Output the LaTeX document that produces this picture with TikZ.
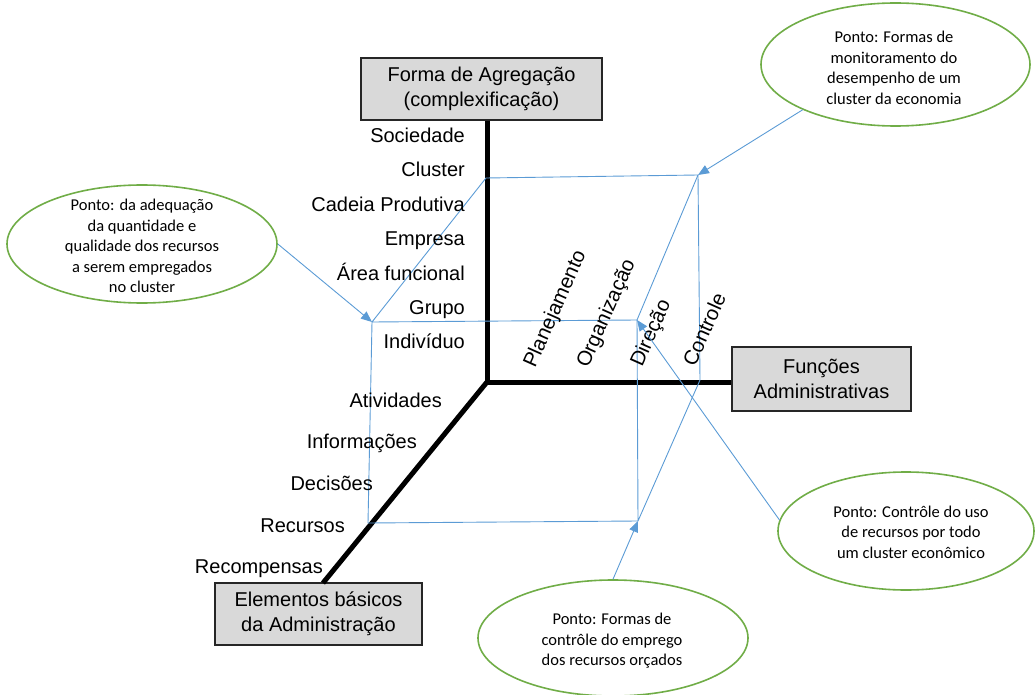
\documentclass[tikz,border=0pt]{standalone}
\usepackage{fontspec}
\setmainfont{Liberation Sans}
\newfontfamily\calibri{Carlito}
\usetikzlibrary{arrows.meta, shapes.geometric}

\definecolor{linkblue}{HTML}{5B9BD5}
\definecolor{pontogreen}{HTML}{70AD47}
\definecolor{boxgray}{HTML}{D9D9D9}

\begin{document}
\begin{tikzpicture}[
x=1pt, y=-1pt,
axis/.style={line width=5pt, black},
axisbox/.style={
rectangle,
draw=black!85,
line width=1.4pt,
fill=boxgray,
align=center,
inner sep=0 pt,
font=\fontsize{20}{25}\selectfont,
},
level/.style={anchor=base east, inner sep=0 pt, font=\fontsize{20}{24}\selectfont},
func/.style={anchor=base west, inner sep=0 pt, rotate=66, font=\fontsize{20.5}{24}\selectfont},
ponto/.style={ellipse, draw=pontogreen, line width=1.6pt, fill=white, inner sep=0 pt},
pontotext/.style={align=center, font=\calibri\fontsize{16.5}{20.5}\selectfont},
link/.style={linkblue, line width=0.9pt},
pointer/.style={link, -{Triangle[length=11pt, width=9pt]}},
]
\useasboundingbox (0,0) rectangle (1036,695);

% axis boxes
\node [axisbox, minimum width=241pt, minimum height=62pt] at (481.5,89) (agreg)
{Forma de Agregação\\(complexificação)};
\node [axisbox, minimum width=179pt, minimum height=64pt] at (821.5,379) (funcoes)
{Funções\\Administrativas};
\node [axisbox, minimum width=207pt, minimum height=62pt] at (318.5,614) (elem)
{Elementos básicos\\da Administração};

% axes
\coordinate (o) at (487,382);
\coordinate (elemtop) at (323,583);
\draw [axis] (o) -- (elemtop);
\draw [axis] (o |- agreg.south) -- (o) -- (o -| funcoes.west);

% cube
\path
(486,178) coordinate(cluster)
(698,175) coordinate(clusterctl)
(372,322) coordinate(grupo)
(637,320) coordinate(grupodir)
(368,523) coordinate(recursos)
(638,521) coordinate(recursosdir)
(700,380) coordinate(controle)
;
\draw [link] (grupo) -- (cluster) -- (clusterctl) -- (controle) -- (recursosdir)
-- (recursos) -- (grupo) -- (grupodir) -- (recursosdir);
\draw [link] (clusterctl) -- (grupodir);

% forma de agregacao
\path[every node/.style=level]
(465,143) node (socied) {Sociedade}
(465,177) node (clust) {Cluster}
(465,211.5) node (cadeia) {Cadeia Produtiva}
(465,245.5) node (empresa) {Empresa}
(465,280) node (area) {Área funcional}
(465,314) node (grp) {Grupo}
(465,348) node (indiv) {Indivíduo}
;

% elementos basicos
\path[every node/.style=level]
(442,407) node (ativ) {Atividades}
(417,448) node (inform) {Informações}
(373,490) node (decis) {Decisões}
(345,532) node (recur) {Recursos}
(323,573) node (recomp) {Recompensas}
;

% funcoes administrativas
\path[every node/.style=func]
(535,369) node (plan) {Planejamento}
(588,369) node (organ) {Organização}
(642,368) node (direc) {Direção}
(695,368) node (contr) {Controle}
;

% pontos
\node [ponto, minimum width=270pt, minimum height=118pt] at (142,244) (pqual) {};
\node [pontotext] at (142,246) (pqual-t)
{Ponto: da adequação\\da quantidade e\\qualidade dos recursos\\a serem empregados\\no cluster};
\node [ponto, minimum width=269pt, minimum height=123pt] at (895.5,64.5) (pmon) {};
\node [pontotext] at (894,68) (pmon-t)
{Ponto: Formas de\\monitoramento do\\desempenho de um\\cluster da economia};
\node [ponto, minimum width=256pt, minimum height=118pt] at (906,531) (pcont) {};
\node [pontotext] at (911,532) (pcont-t)
{Ponto: Contrôle do uso\\de recursos por todo\\um cluster econômico};
\node [ponto, minimum width=270pt, minimum height=116pt] at (613,638) (pemp) {};
\node [pontotext] at (612,641) (pemp-t)
{Ponto: Formas de\\contrôle do emprego\\dos recursos orçados};

\draw [pointer] (pqual.east) -- (grupo);
\draw [pointer] (pmon.206) -- (clusterctl);
\draw [pointer] (pcont.175) -- (grupodir);
\draw [pointer] (pemp.north) -- (recursosdir);

\end{tikzpicture}
\end{document}
